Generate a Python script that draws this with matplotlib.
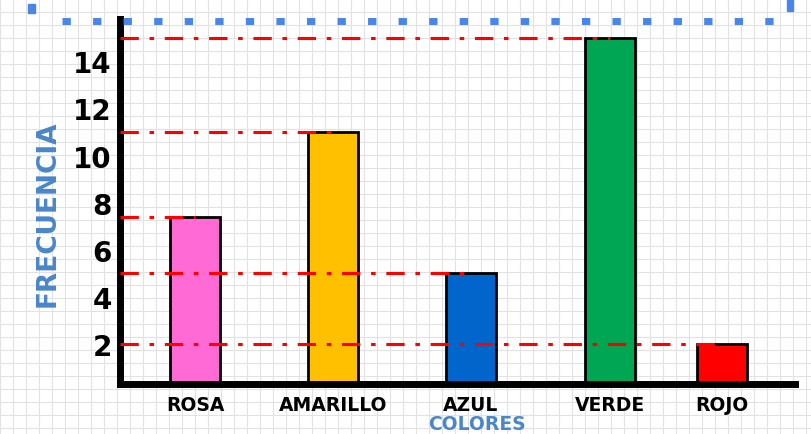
import numpy as np
import matplotlib.pyplot as plt
from matplotlib.patches import Rectangle

# Data
colores = ['ROSA', 'AMARILLO', 'AZUL', 'VERDE', 'ROJO']
frecuencia = [7.4, 11, 5, 15, 2]
bar_colors = ['#ff6ad5', '#ffc000', '#0066cc', '#00a651', '#ff0000']
yticks = [2, 4, 6, 8, 10, 12, 14]

# layout positions of the bars along the x axis
x_pos = [0.556, 1.578, 2.6, 3.63, 4.46]

fig = plt.figure(figsize=(8.11, 4.35), dpi=100)

# graph-paper background
bg = fig.add_axes([0, 0, 1, 1], zorder=-1)
bg.set_xlim(0, 811)
bg.set_ylim(435, 0)
for gx in np.arange(0, 811, 13):
    bg.axvline(gx, color='#e2e2e2', lw=0.8)
for gy in np.arange(0, 435, 13):
    bg.axhline(gy, color='#e2e2e2', lw=0.8)
bg.axis('off')

ax = fig.add_axes([120 / 811, 50 / 435, 675 / 811, 365 / 435])
ax.patch.set_alpha(0)

ax.bar(x_pos, frecuencia, width=0.37, color=bar_colors,
       edgecolor='black', linewidth=2, zorder=2)

# dash-dot guide lines from the axis to each bar
for x, v in zip(x_pos, frecuencia):
    ax.plot([0, x], [v, v], color='#ff0000', lw=2.2,
            linestyle=(0, (6, 3.5, 1.5, 3.5)), zorder=3, solid_capstyle='butt')

ax.set_xlim(0, 5)
ax.set_ylim(0.3, 15.8)
ax.set_yticks(yticks)
ax.set_yticklabels([str(t) for t in yticks], fontsize=20, fontweight='bold')
ax.set_xticks(x_pos)
ax.set_xticklabels(colores, fontsize=13.5, fontweight='bold')
ax.tick_params(axis='y', length=0, pad=6)
ax.tick_params(axis='x', length=0, pad=8)

for s in ['top', 'right']:
    ax.spines[s].set_visible(False)
ax.spines['left'].set_linewidth(5)
ax.spines['bottom'].set_linewidth(5)

ax.set_xlabel('COLORES', fontsize=13.5, fontweight='bold', color='#4a86c8')
ax.xaxis.set_label_coords(0.529, -0.083)
ax.set_ylabel('FRECUENCIA', fontsize=19, fontweight='bold', color='#4a86c8')
ax.yaxis.set_label_coords(-0.088, 0.47)

# dotted selection box at the top
fig.add_artist(plt.Line2D([62 / 811, 790 / 811], [1 - 22 / 435, 1 - 22 / 435],
                          transform=fig.transFigure, color='#4a86e8', lw=5,
                          linestyle=(0, (1.2, 3.2)), solid_capstyle='butt'))
fig.add_artist(Rectangle((28 / 811, 1 - 14 / 435), 7 / 811, 9 / 435,
                         transform=fig.transFigure, color='#4a86e8'))
fig.add_artist(Rectangle((787 / 811, 1 - 12 / 435), 6 / 811, 12 / 435,
                         transform=fig.transFigure, color='#4a86e8'))

fig.savefig('out.png', dpi=100)
